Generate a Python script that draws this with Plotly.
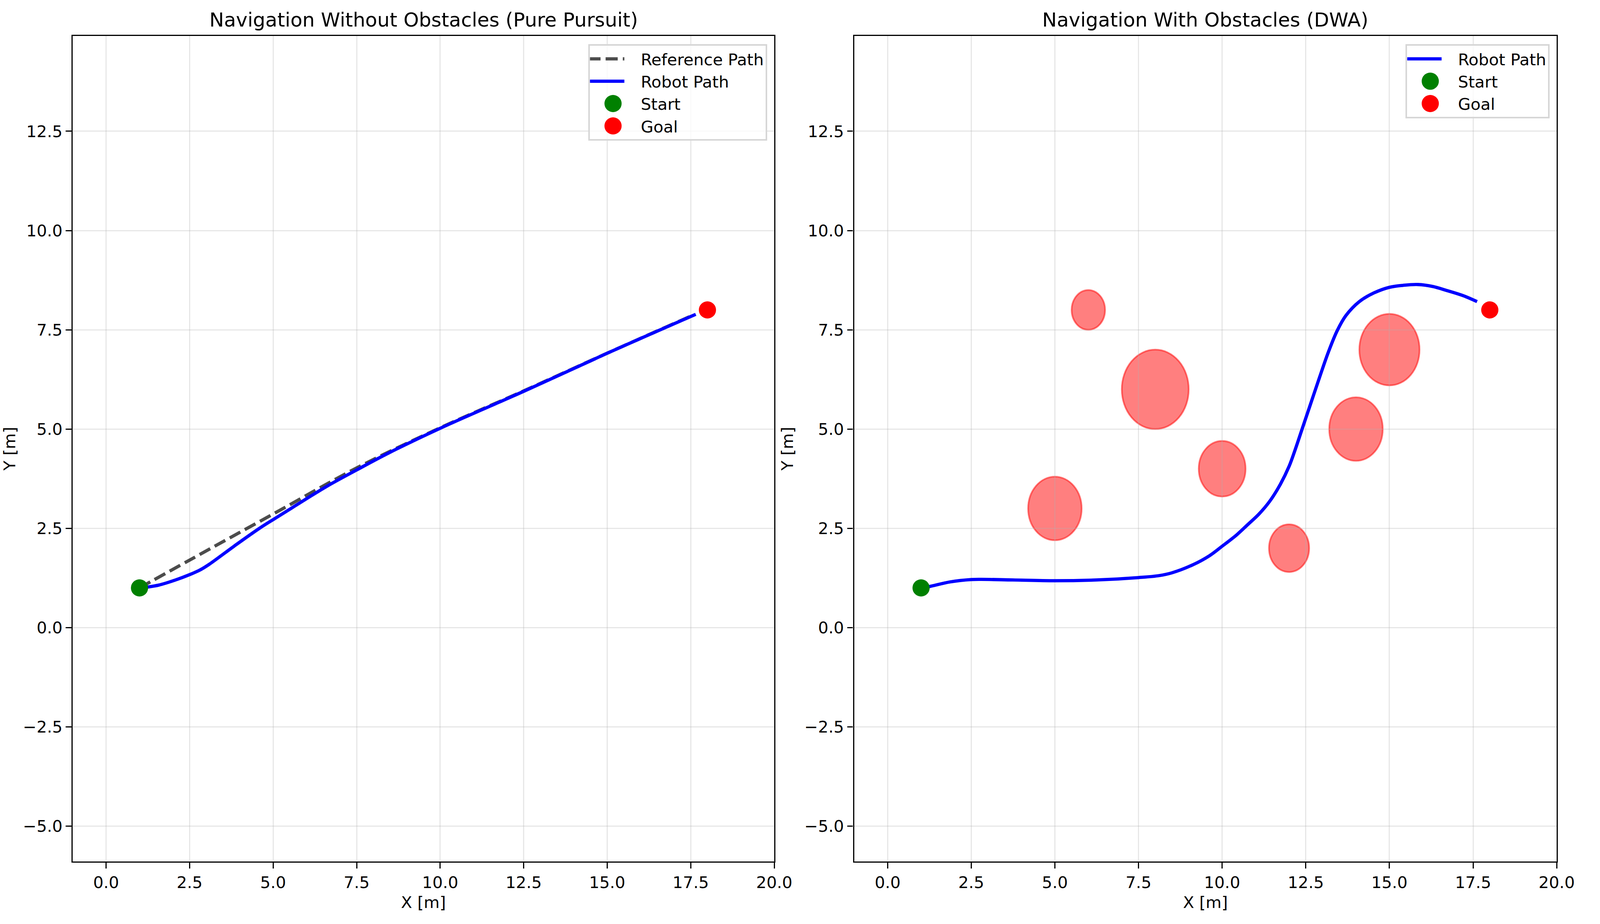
import plotly.graph_objects as go

# ---------------- data ----------------
# Left panel: Pure Pursuit
ref_x = [1.0, 2.5, 5.0, 7.5, 10.0, 12.5, 15.0, 17.6]
ref_y = [1.0, 1.70, 2.86, 4.02, 5.03, 5.96, 6.91, 7.88]

pp_x = [1.0, 1.22, 1.575, 2.08, 2.49, 2.83, 3.08, 3.83, 4.59, 5.0, 5.59, 6.59, 7.5, 8.44, 10.0, 12.5, 15.0, 17.65]
pp_y = [1.0, 1.02, 1.07, 1.20, 1.33, 1.46, 1.59, 2.05, 2.50, 2.72, 3.03, 3.55, 3.97, 4.39, 5.02, 5.95, 6.91, 7.89]

# Right panel: DWA
dwa_x = [1.0, 1.23, 1.86, 2.5, 2.8, 3.74, 5.0, 6.25, 7.5, 8.12, 8.5, 9.12, 9.62, 10.0, 10.44,
         10.76, 11.09, 11.42, 11.74, 12.0, 12.17, 12.39, 12.65, 12.91, 13.18, 13.44, 13.7, 14.1,
         14.54, 15.0, 15.41, 15.85, 16.3, 16.71, 17.2, 17.62]
dwa_y = [1.0, 1.03, 1.15, 1.21, 1.215, 1.20, 1.18, 1.20, 1.26, 1.31, 1.38, 1.58, 1.81, 2.05, 2.34,
         2.59, 2.85, 3.18, 3.61, 4.06, 4.45, 5.0, 5.65, 6.30, 6.95, 7.48, 7.86, 8.21,
         8.43, 8.57, 8.62, 8.64, 8.59, 8.49, 8.36, 8.21]

start = (1.0, 1.0)
goal = (18.0, 8.0)

obs_x = [6.0, 8.0, 5.0, 10.0, 12.0, 14.0, 15.0]
obs_y = [8.0, 6.0, 3.0, 4.0, 2.0, 5.0, 7.0]
obs_r = [0.5, 1.0, 0.8, 0.7, 0.6, 0.8, 0.9]

x_ticks = [0, 2.5, 5, 7.5, 10, 12.5, 15, 17.5, 20]
x_tick_text = ["0.0", "2.5", "5.0", "7.5", "10.0", "12.5", "15.0", "17.5", "20.0"]
y_ticks = [-5, -2.5, 0, 2.5, 5, 7.5, 10, 12.5]
y_tick_text = ["\u22125.0", "\u22122.5", "0.0", "2.5", "5.0", "7.5", "10.0", "12.5"]

titles = ["Navigation Without Obstacles (Pure Pursuit)", "Navigation With Obstacles (DWA)"]

# ---------------- figure ----------------
W, H = 4810, 2365
FONT = "DejaVu Sans"
FS = 41.7
LW = 8.3
MS = 44

fig = go.Figure()

fig.add_trace(go.Scatter(x=ref_x, y=ref_y, mode="lines", name="Reference Path",
                         line=dict(color="rgba(0,0,0,0.7)", width=LW, dash="31px,13px", shape="spline"),
                         xaxis="x", yaxis="y", legend="legend"))
fig.add_trace(go.Scatter(x=pp_x, y=pp_y, mode="lines", name="Robot Path",
                         line=dict(color="#0000ff", width=LW, shape="spline"),
                         xaxis="x", yaxis="y", legend="legend"))
fig.add_trace(go.Scatter(x=[start[0]], y=[start[1]], mode="markers", name="Start",
                         marker=dict(color="#008000", size=MS, line=dict(width=0)),
                         xaxis="x", yaxis="y", legend="legend"))
fig.add_trace(go.Scatter(x=[goal[0]], y=[goal[1]], mode="markers", name="Goal",
                         marker=dict(color="#ff0000", size=MS, line=dict(width=0)),
                         xaxis="x", yaxis="y", legend="legend"))

fig.add_trace(go.Scatter(x=dwa_x, y=dwa_y, mode="lines", name="Robot Path",
                         line=dict(color="#0000ff", width=LW, shape="spline"),
                         xaxis="x2", yaxis="y2", legend="legend2"))
fig.add_trace(go.Scatter(x=[start[0]], y=[start[1]], mode="markers", name="Start",
                         marker=dict(color="#008000", size=MS, line=dict(width=0)),
                         xaxis="x2", yaxis="y2", legend="legend2"))
fig.add_trace(go.Scatter(x=[goal[0]], y=[goal[1]], mode="markers", name="Goal",
                         marker=dict(color="#ff0000", size=MS, line=dict(width=0)),
                         xaxis="x2", yaxis="y2", legend="legend2"))

for cx, cy, r in zip(obs_x, obs_y, obs_r):
    fig.add_shape(type="circle", xref="x2", yref="y2",
                  x0=cx - r, x1=cx + r, y0=cy - r, y1=cy + r,
                  fillcolor="rgba(255,0,0,0.5)", line=dict(color="rgba(255,0,0,0.5)", width=4.2),
                  layer="below")

# pixel geometry (reference is 4810 x 2365)
L1, R1 = 221, 2354
L2, R2 = 2597, 4733
TOP, BOT = 92, 2205
dom_y = [(H - BOT) / H, (H - TOP) / H]

axis_common = dict(showline=True, linecolor="black", linewidth=3.33, mirror=True,
                   ticks="outside", ticklen=14.6, tickwidth=3.33, tickcolor="black",
                   showgrid=True, gridcolor="rgba(176,176,176,0.3)", gridwidth=3.33, zeroline=False,
                   tickfont=dict(family=FONT, size=FS, color="black"))

xa = dict(axis_common, range=[-1, 20], tickvals=x_ticks, ticktext=x_tick_text,
          title=dict(text="X [m]", font=dict(family=FONT, size=FS, color="black"), standoff=14))
ya = dict(axis_common, range=[-5.89, 14.90], tickvals=y_ticks, ticktext=y_tick_text,
          title=dict(text="Y [m]", font=dict(family=FONT, size=FS, color="black"), standoff=16))

legend_common = dict(font=dict(family=FONT, size=FS, color="black"),
                     bgcolor="rgba(255,255,255,0.8)", bordercolor="#d6d6d6", borderwidth=4,
                     xanchor="right", yanchor="top", tracegroupgap=0, itemwidth=120,
                     y=(H - TOP - 21) / H)

fig.update_layout(
    width=W, height=H, autosize=False,
    margin=dict(l=0, r=0, t=0, b=0, pad=0),
    paper_bgcolor="white", plot_bgcolor="white",
    font=dict(family=FONT, size=FS, color="black"),
    xaxis=dict(xa, domain=[L1 / W, R1 / W], anchor="y"),
    yaxis=dict(ya, domain=dom_y, anchor="x"),
    xaxis2=dict(xa, domain=[L2 / W, R2 / W], anchor="y2"),
    yaxis2=dict(ya, domain=dom_y, anchor="x2"),
    legend=dict(legend_common, x=(R1 - 21) / W),
    legend2=dict(legend_common, x=(R2 - 21) / W),
    showlegend=True,
)

for i, (l, r) in enumerate([(L1, R1), (L2, R2)]):
    fig.add_annotation(text=titles[i], xref="paper", yref="paper",
                       x=(l + r) / 2 / W, y=dom_y[1], xanchor="center", yanchor="bottom",
                       yshift=10, showarrow=False,
                       font=dict(family=FONT, size=50, color="black"))

# Fit the figure to the actual browser viewport and enlarge legend symbols
# to matplotlib-like sizes (plotly caps legend marker size).
post = """
var gd = document.getElementById('{plot_id}');
document.documentElement.style.margin = '0';
document.body.style.margin = '0';
document.documentElement.style.overflow = 'hidden';
document.body.style.overflow = 'hidden';
function fixLegend() {
  gd.querySelectorAll('.legendpoints path.scatterpts').forEach(function (p) {
    p.setAttribute('d', 'M16,0A22,22 0 1,1 -28,0A22,22 0 1,1 16,0Z');
  });
  gd.querySelectorAll('.legendlines path.js-line').forEach(function (p) {
    p.setAttribute('d', 'M-4,0h92');
  });
}
var vw = window.innerWidth, vh = window.innerHeight;
var pr = (vw !== gd.layout.width || vh !== gd.layout.height)
  ? Plotly.relayout(gd, {width: vw, height: vh})
  : Promise.resolve();
pr.then(fixLegend);
"""

fig.write_html("out.html", post_script=post, config={"displayModeBar": False})
